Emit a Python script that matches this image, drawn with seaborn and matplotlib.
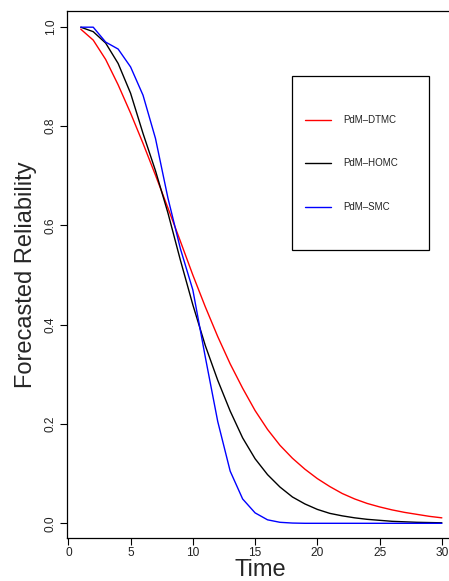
import numpy as np
import pandas as pd
import matplotlib
matplotlib.use("Agg")
import matplotlib.pyplot as plt
from matplotlib.ticker import FormatStrFormatter
import seaborn as sns

# Forecasted reliability of the three predictive-maintenance models over time
time = list(range(1, 31))
dtmc = [0.995, 0.973, 0.934, 0.883, 0.826, 0.765, 0.701, 0.635, 0.568, 0.500,
        0.436, 0.376, 0.321, 0.272, 0.227, 0.189, 0.157, 0.131, 0.109, 0.090,
        0.074, 0.060, 0.049, 0.040, 0.033, 0.027, 0.022, 0.018, 0.014, 0.011]
homc = [0.999, 0.990, 0.967, 0.926, 0.866, 0.785, 0.710, 0.625, 0.530, 0.440,
        0.358, 0.288, 0.226, 0.172, 0.130, 0.098, 0.073, 0.053, 0.039, 0.028,
        0.020, 0.015, 0.011, 0.008, 0.006, 0.004, 0.003, 0.002, 0.0015, 0.001]
smc = [0.999, 0.999, 0.969, 0.955, 0.919, 0.862, 0.775, 0.655, 0.553, 0.470,
       0.335, 0.205, 0.105, 0.049, 0.021, 0.007, 0.002, 0.0005, 0.0, 0.0,
       0.0, 0.0, 0.0, 0.0, 0.0, 0.0, 0.0, 0.0, 0.0, 0.0]
models = ["PdM\u2013DTMC", "PdM\u2013HOMC", "PdM\u2013SMC"]
colors = ["#ff0000", "#000000", "#0000ff"]
x_ticks = [0, 5, 10, 15, 20, 25, 30]
y_ticks = [0.0, 0.2, 0.4, 0.6, 0.8, 1.0]

df = pd.DataFrame({
    "Time": time * 3,
    "Reliability": dtmc + homc + smc,
    "Model": [m for m in models for _ in time],
})

sns.set_style("ticks")
plt.rcParams["font.family"] = ["Liberation Sans", "DejaVu Sans"]

fig = plt.figure(figsize=(4.49, 5.81), dpi=100)
ax = fig.add_axes([0.14855, 0.07401, 0.8677, 0.90757])

sns.lineplot(data=df, x="Time", y="Reliability", hue="Model",
             hue_order=models, palette=colors, linewidth=1.0,
             legend=False, ax=ax)

ax.set_xlim(-0.13, 31.16)
ax.set_ylim(-0.0296, 1.0322)
ax.set_xticks(x_ticks)
ax.set_yticks(y_ticks)
ax.yaxis.set_major_formatter(FormatStrFormatter("%.1f"))

for side in ["left", "top", "bottom"]:
    ax.spines[side].set_visible(True)
    ax.spines[side].set_linewidth(0.9)
    ax.spines[side].set_color("black")
ax.spines["right"].set_visible(False)

ax.tick_params(axis="both", direction="out", length=5, width=0.8,
               color="black", labelsize=8.6, labelcolor="#222222")
ax.tick_params(axis="x", pad=1.6)
ax.tick_params(axis="y", pad=2.3, labelrotation=90)
for lab in ax.get_yticklabels():
    lab.set_va("center")

ax.set_xlabel("Time", fontsize=17)
ax.set_ylabel("Forecasted Reliability", fontsize=17)
ax.xaxis.set_label_coords(0.4965, -0.039)
ax.yaxis.set_label_coords(-0.076, 0.5)

# legend panel
tr = ax.transAxes
box = plt.Rectangle((0.5795, 0.5462), 0.9289 - 0.5795, 0.8762 - 0.5462,
                    transform=tr, fill=False, edgecolor="black",
                    linewidth=0.9, zorder=5)
ax.add_patch(box)
for name, col, yy in zip(models, colors, [0.7927, 0.7106, 0.6283]):
    ax.plot([0.6125, 0.6793], [yy, yy], transform=tr, color=col,
            linewidth=1.0, zorder=6)
    ax.text(0.7105, yy, name, transform=tr, fontsize=7, va="center",
            ha="left", color="#222222", zorder=6)

fig.savefig("out.png", dpi=100)
